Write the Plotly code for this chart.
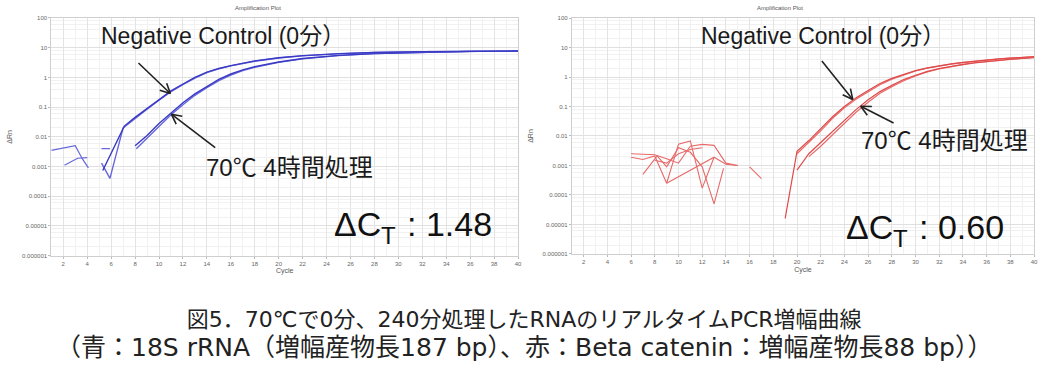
import math
import plotly.graph_objects as go

W, H = 1052, 376

# ---------------- data ----------------
# Left panel: 18S rRNA (blue)
blue_nc1_x = [5.3, 7.1, 8, 9, 10, 11, 12, 13, 14, 15, 16, 17, 18, 20, 22, 25, 28, 32, 36, 40]
blue_nc1_y = [0.00074, 0.023, 0.045, 0.09, 0.18, 0.35, 0.6, 1.0, 1.5, 2.0, 2.5, 3.0, 3.6, 4.6, 5.4, 6.3, 6.9, 7.3, 7.6, 7.7]
blue_nc2_x = [5.2, 5.9, 7.0, 8, 9, 10, 11, 12, 13, 14, 15, 16, 17, 18, 20, 22, 25, 28, 32, 36, 40]
blue_nc2_y = [0.0013, 0.0004, 0.02, 0.042, 0.085, 0.17, 0.33, 0.57, 0.95, 1.45, 1.95, 2.45, 2.95, 3.5, 4.5, 5.3, 6.2, 6.85, 7.3, 7.6, 7.7]
blue_tr1_x = [8, 9, 10, 11, 12, 13, 14, 15, 16, 17, 18, 20, 22, 25, 28, 32, 36, 40]
blue_tr1_y = [0.005, 0.011, 0.028, 0.065, 0.14, 0.28, 0.5, 0.85, 1.3, 1.8, 2.3, 3.3, 4.3, 5.5, 6.4, 7.1, 7.5, 7.7]
blue_tr2_x = [8.1, 9, 10, 11, 12, 13, 14, 15, 16, 17, 18, 20, 22, 25, 28, 32, 36, 40]
blue_tr2_y = [0.004, 0.009, 0.022, 0.055, 0.12, 0.25, 0.45, 0.78, 1.2, 1.7, 2.2, 3.2, 4.2, 5.4, 6.35, 7.05, 7.5, 7.7]
blue_noise1_x = [1, 3, 3.6, 4.1]
blue_noise1_y = [0.0035, 0.005, 0.0018, 0.0009]
blue_noise2_x = [2.1, 3.2, 4.0]
blue_noise2_y = [0.0011, 0.0019, 0.002]
blue_noise3_x = [5.2, 5.9]
blue_noise3_y = [0.004, 0.004]

# Right panel: Beta catenin (red)
red_nc1_x = [19, 20, 21, 22, 23, 24, 25, 26, 27, 28, 29, 30, 31, 32, 33, 34, 35, 36, 37, 38, 39, 40]
red_nc1_y = [0.000016, 0.003, 0.007, 0.018, 0.045, 0.1, 0.2, 0.35, 0.6, 0.9, 1.25, 1.65, 2.05, 2.45, 2.8, 3.15, 3.5, 3.8, 4.1, 4.4, 4.65, 4.9]
red_nc2_x = [20, 21, 22, 23, 24, 25, 26, 27, 28, 29, 30, 31, 32, 33, 34, 35, 36, 37, 38, 39, 40]
red_nc2_y = [0.0025, 0.006, 0.015, 0.04, 0.09, 0.18, 0.32, 0.55, 0.85, 1.2, 1.6, 2.0, 2.4, 2.75, 3.1, 3.45, 3.75, 4.05, 4.35, 4.6, 4.85]
red_tr1_x = [20, 21, 22, 23, 24, 25, 26, 27, 28, 29, 30, 31, 32, 33, 34, 35, 36, 37, 38, 39, 40]
red_tr1_y = [0.0007, 0.0025, 0.006, 0.014, 0.034, 0.08, 0.17, 0.32, 0.52, 0.82, 1.15, 1.55, 1.95, 2.35, 2.7, 3.05, 3.4, 3.7, 4.0, 4.3, 4.6]
red_tr2_x = [21, 22, 23, 24, 25, 26, 27, 28, 29, 30, 31, 32, 33, 34, 35, 36, 37, 38, 39, 40]
red_tr2_y = [0.002, 0.0045, 0.011, 0.027, 0.065, 0.14, 0.28, 0.47, 0.75, 1.08, 1.48, 1.9, 2.3, 2.65, 3.0, 3.35, 3.65, 3.95, 4.25, 4.55]
red_noise1_x = [6, 7, 8, 9, 10, 11, 12, 13, 14, 15]
red_noise1_y = [0.0025, 0.0024, 0.0023, 0.0017, 0.0012, 0.0045, 0.0052, 0.0048, 0.0012, 0.001]
red_noise2_x = [6, 7, 8, 9, 10, 11, 12, 13]
red_noise2_y = [0.0019, 0.0016, 0.0021, 0.00025, 0.0053, 0.0068, 0.00017, 0.0019]
red_noise3_x = [7, 8.2, 9, 10, 11, 12, 13, 13.8]
red_noise3_y = [0.0005, 0.0021, 0.0009, 0.004, 0.0028, 0.0009, 0.00005, 0.0008]
red_noise4_x = [9, 13, 14, 15]
red_noise4_y = [0.00025, 0.0019, 0.0011, 0.001]
red_noise5_x = [16, 17]
red_noise5_y = [0.0009, 0.00036]
red_noise6_x = [8, 9, 10, 11, 12]
red_noise6_y = [0.0015, 0.0012, 0.0025, 0.0035, 0.004]

y_tickvals = [1e-6, 1e-5, 1e-4, 1e-3, 1e-2, 1e-1, 1, 10, 100]
y_ticktext = ["0.000001", "0.00001", "0.0001", "0.001", "0.01", "0.1", "1", "10", "100"]
x_tickvals = list(range(2, 41, 2))

plot_title = "Amplification Plot"
y_title = "ΔRn"
x_title = "Cycle"
label_nc = "Negative Control (0分）"
label_tr = "70℃ 4時間処理"
dct_main = "ΔC"
dct_sub = "T"
dct_left_val = ": 1.48"
dct_right_val = ": 0.60"
caption1 = "図5．70℃で0分、240分処理したRNAのリアルタイムPCR増幅曲線"
caption2 = "（青：18S rRNA（増幅産物長187 bp）、赤：Beta catenin：増幅産物長88 bp））"

# ---------------- figure ----------------
def px(x):
    return x / W

def py(y):
    return 1 - y / H

fig = go.Figure()

blue_dark = "#3a3ac4"
blue_light = "#6767dc"
red_main = "#df4a4a"
red_light = "#e86a6a"

def add_line(xs, ys, color, axis, width=1.4):
    fig.add_trace(go.Scatter(x=xs, y=ys, mode="lines", line=dict(color=color, width=width),
                             xaxis=axis[0], yaxis=axis[1], showlegend=False, hoverinfo="skip"))

L = ("x", "y")
R = ("x2", "y2")
for xs, ys in [(blue_noise1_x, blue_noise1_y), (blue_noise2_x, blue_noise2_y), (blue_noise3_x, blue_noise3_y)]:
    add_line(xs, ys, blue_light, L, 1.2)
add_line(blue_tr2_x, blue_tr2_y, blue_light, L)
add_line(blue_tr1_x, blue_tr1_y, blue_dark, L)
add_line(blue_nc2_x, blue_nc2_y, blue_light, L)
add_line(blue_nc1_x, blue_nc1_y, blue_dark, L)

for xs, ys in [(red_noise1_x, red_noise1_y), (red_noise2_x, red_noise2_y), (red_noise3_x, red_noise3_y),
               (red_noise4_x, red_noise4_y), (red_noise5_x, red_noise5_y), (red_noise6_x, red_noise6_y)]:
    add_line(xs, ys, red_light, R, 1.1)
add_line(red_tr2_x, red_tr2_y, red_light, R, 1.2)
add_line(red_tr1_x, red_tr1_y, red_main, R, 1.2)
add_line(red_nc2_x, red_nc2_y, red_light, R, 1.2)
add_line(red_nc1_x, red_nc1_y, red_main, R, 1.2)

tick_font = dict(family="Liberation Sans, Arial, sans-serif", size=6, color="#666666")
title_font = dict(family="Liberation Sans, Arial, sans-serif", size=7, color="#555555")
minor_y = [k * 10.0 ** d for d in range(-6, 2) for k in (2, 4, 6, 8)]

def xaxis_cfg(domain, anchor):
    return dict(domain=domain, anchor=anchor, range=[1, 40], tickvals=x_tickvals,
                tickfont=tick_font, ticks="outside", ticklen=2, tickcolor="#bbbbbb",
                showline=True, linecolor="#cfcfcf", mirror=True, linewidth=1,
                showgrid=True, gridcolor="#e4e4e4", gridwidth=1, zeroline=False,
                title=dict(text=x_title, font=title_font, standoff=2),
                minor=dict(dtick=1, showgrid=True, gridcolor="#f1f1f1", ticks=""))

def yaxis_cfg(domain, anchor):
    return dict(domain=domain, anchor=anchor, type="log", range=[-6, 2],
                tickvals=y_tickvals, ticktext=y_ticktext, tickfont=tick_font,
                ticks="outside", ticklen=2, tickcolor="#bbbbbb",
                showline=True, linecolor="#cfcfcf", mirror=True, linewidth=1,
                showgrid=True, gridcolor="#e0e0e0", gridwidth=1, zeroline=False,
                title=dict(text=y_title, font=title_font, standoff=8),
                minor=dict(tickvals=minor_y, showgrid=True, gridcolor="#f1f1f1", ticks=""))

fig.update_layout(
    width=W, height=H, margin=dict(l=0, r=0, t=0, b=0),
    paper_bgcolor="white", plot_bgcolor="white",
    xaxis=xaxis_cfg([px(51.5), px(520)], "y"),
    yaxis=yaxis_cfg([py(256.8), py(15.2)], "x"),
    xaxis2=xaxis_cfg([px(574), px(1038)], "y2"),
    yaxis2=yaxis_cfg([py(255), py(15.3)], "x2"),
)

ann = []
small = dict(family="Liberation Sans, Arial, sans-serif", size=6, color="#555555")
for cx in (259, 783):
    ann.append(dict(x=px(cx), y=py(5), xref="paper", yref="paper", text=plot_title, showarrow=False,
                    font=small, xanchor="center", yanchor="middle"))

label_font = dict(family="Liberation Sans, Noto Sans CJK JP, sans-serif", size=23, color="#1a1a1a")
label_font2 = dict(family="Liberation Sans, Noto Sans CJK JP, sans-serif", size=24, color="#1a1a1a")
big_font = dict(family="Liberation Sans, Arial, sans-serif", size=34, color="#111111")
sub_font = dict(family="Liberation Sans, Arial, sans-serif", size=24, color="#111111")

def text_at(x, y, s, font, xanchor="center"):
    ann.append(dict(x=px(x), y=py(y), xref="paper", yref="paper", text=s, showarrow=False,
                    font=font, xanchor=xanchor, yanchor="middle"))

# left panel labels
text_at(224, 34, label_nc, label_font)
text_at(291, 167, label_tr, label_font2)
text_at(333, 225, dct_main, big_font, "left")
text_at(380, 236, dct_sub, sub_font, "left")
text_at(407, 225, dct_left_val, big_font, "left")
# right panel labels
text_at(826, 34, label_nc, label_font)
text_at(948, 140, label_tr, label_font2)
text_at(847, 228, dct_main, big_font, "left")
text_at(894, 239, dct_sub, sub_font, "left")
text_at(921, 228, dct_right_val, big_font, "left")

# caption (two lines in one text block; second line slightly wider as in the source)
cap_font = dict(family="DejaVu Sans, Noto Sans CJK JP, sans-serif", size=22, color="#222222")
cap_text = caption1 + "<br>" + '<span style="font-size:25px">' + caption2 + "</span>"
ann.append(dict(x=px(526), y=py(337), xref="paper", yref="paper", text=cap_text,
                showarrow=False, font=cap_font, xanchor="center", yanchor="middle", align="center"))

fig.update_layout(annotations=ann)

# arrows drawn as shapes: tail -> head with an open "V" head
shapes = []
arrow_style = dict(color="#222222", width=1.6)
for (tx, ty), (hx, hy) in (((139, 61), (171, 92)), ((216, 147), (172, 113)),
                           ((825, 59), (856, 98)), ((897, 122), (864, 105))):
    shapes.append(dict(type="line", xref="paper", yref="paper", x0=px(tx), y0=py(ty),
                       x1=px(hx), y1=py(hy), line=arrow_style))
    dx, dy = hx - tx, hy - ty
    n = math.hypot(dx, dy)
    ux, uy = dx / n, dy / n
    for s in (1, -1):
        wx = hx - 10 * ux + s * 5 * (-uy)
        wy = hy - 10 * uy + s * 5 * ux
        shapes.append(dict(type="line", xref="paper", yref="paper", x0=px(wx), y0=py(wy),
                           x1=px(hx), y1=py(hy), line=arrow_style))
fig.update_layout(shapes=shapes)

fig.write_html("out.html")
